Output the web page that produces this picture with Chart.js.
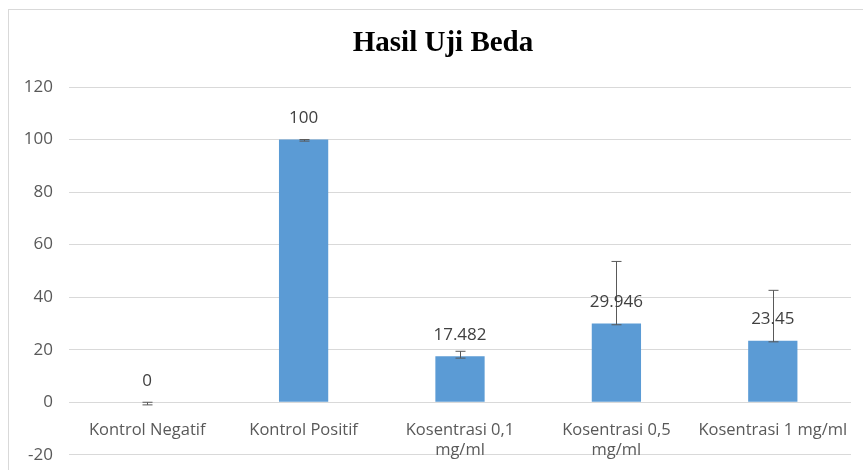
<!DOCTYPE html>
<html>
<head>
<meta charset="utf-8">
<script src="https://cdn.jsdelivr.net/npm/chart.js@4"></script>
<style>
  html, body { margin: 0; padding: 0; background: #fff; overflow: hidden; }
  #wrap { position: relative; width: 863px; height: 470px; overflow: hidden; }
  #frame { position: absolute; left: 8px; top: 9px; width: 870px; height: 470px; border: 1px solid #d9d9d9; box-sizing: border-box; }
  canvas { position: absolute; left: 0; top: 0; }
</style>
</head>
<body>
<div id="wrap">
  <div id="frame"></div>
  <canvas id="ujiChart" width="863" height="481"></canvas>
</div>
<script>
// data
const categories = ['Kontrol Negatif', 'Kontrol Positif', ['Kosentrasi 0,1', 'mg/ml'], ['Kosentrasi 0,5', 'mg/ml'], 'Kosentrasi 1 mg/ml'];
const values = [0, 100, 17.482, 29.946, 23.45];
const valueLabels = ['0', '100', '17.482', '29.946', '23.45'];
const errLow = [-1, 99.4, 16.8, 29.5, 23.0];
const errHigh = [0, 100, 19.4, 53.6, 42.6];
const yTicks = [-20, 0, 20, 40, 60, 80, 100, 120];

// title + error bars + value labels
const extras = {
  id: 'extras',
  afterDatasetsDraw(chart) {
    const ctx = chart.ctx;
    const y = chart.scales.y;
    const meta = chart.getDatasetMeta(0);
    ctx.save();
    ctx.strokeStyle = '#595959';
    ctx.lineWidth = 1;
    meta.data.forEach((bar, i) => {
      const x = Math.round(bar.x) + 0.5;
      const lo = y.getPixelForValue(errLow[i]);
      const hi = y.getPixelForValue(errHigh[i]);
      ctx.beginPath();
      ctx.moveTo(x, lo); ctx.lineTo(x, hi);
      ctx.moveTo(x - 5, lo); ctx.lineTo(x + 5, lo);
      ctx.moveTo(x - 5, hi); ctx.lineTo(x + 5, hi);
      ctx.stroke();
    });
    ctx.fillStyle = '#404040';
    ctx.font = '17px "Open Sans"';
    ctx.textAlign = 'center';
    ctx.textBaseline = 'middle';
    meta.data.forEach((bar, i) => {
      ctx.fillText(valueLabels[i], bar.x, y.getPixelForValue(values[i]) - 21);
    });
    ctx.fillStyle = '#000';
    ctx.font = 'bold 29px "Liberation Serif"';
    ctx.fillText('Hasil Uji Beda', 443, 44);
    ctx.restore();
  }
};

function draw() {
  const ctx1 = document.getElementById('ujiChart').getContext('2d');
  new Chart(ctx1, {
    type: 'bar',
    data: {
      labels: categories,
      datasets: [{
        data: values,
        backgroundColor: '#5b9bd5',
        categoryPercentage: 1,
        barPercentage: 0.315
      }]
    },
    options: {
      responsive: false,
      animation: false,
      layout: { padding: { left: 0, top: 87, right: 12, bottom: 6 } },
      plugins: { legend: { display: false }, tooltip: { enabled: false } },
      scales: {
        x: {
          position: { y: 0 },
          afterFit(scale) { scale.height = 0; },
          grid: { display: false },
          border: { display: false },
          ticks: { color: '#595959', font: { family: 'Open Sans', size: 16.5 }, padding: 10, maxRotation: 0, autoSkip: false }
        },
        y: {
          min: -20, max: 120,
          afterFit(scale) { scale.width = 69; },
          afterBuildTicks(scale) { scale.ticks = yTicks.map(v => ({ value: v })); },
          grid: { color: '#d9d9d9', drawTicks: false },
          border: { display: false },
          ticks: { color: '#595959', font: { family: 'Open Sans', size: 17 }, padding: 16 }
        }
      }
    },
    plugins: [extras]
  });
}

Promise.all([
  document.fonts.load('17px "Open Sans"'),
  document.fonts.load('bold 29px "Liberation Serif"')
]).then(draw, draw);
</script>
</body>
</html>
